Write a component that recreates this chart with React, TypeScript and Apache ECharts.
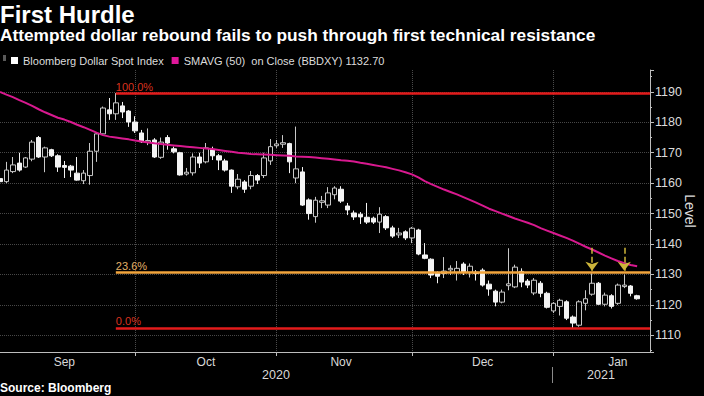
import React, { useEffect, useRef } from 'react';
import * as echarts from 'echarts';

const FONT = '"Liberation Sans", Arial, sans-serif';

// Trading days shown on the category axis (last two Jan entries are empty slots)
const sepDays = [2, 3, 4, 7, 8, 9, 10, 11, 14, 15, 16, 17, 18, 21, 22, 23, 24, 25, 28, 29, 30];
const octDays = [1, 2, 5, 6, 7, 8, 9, 12, 13, 14, 15, 16, 19, 20, 21, 22, 23, 26, 27, 28, 29, 30];
const novDays = [2, 3, 4, 5, 6, 9, 10, 11, 12, 13, 16, 17, 18, 19, 20, 23, 24, 25, 26, 27, 30];
const decDays = [1, 2, 3, 4, 7, 8, 9, 10, 11, 14, 15, 16, 17, 18, 21, 22, 23, 24, 28, 29, 30, 31];
const janDays = [4, 5, 6, 7, 8, 11, 12, 13, 14, 15, 18, 19, 20, 21, 22, 25];

const pad = (d: number) => String(d).padStart(2, '0');
const categories: string[] = [
  ...sepDays.map((d) => `2020-09-${pad(d)}`),
  ...octDays.map((d) => `2020-10-${pad(d)}`),
  ...novDays.map((d) => `2020-11-${pad(d)}`),
  ...decDays.map((d) => `2020-12-${pad(d)}`),
  ...janDays.map((d) => `2021-01-${pad(d)}`),
];

const monthNames = ['Sep', 'Oct', 'Nov', 'Dec', 'Jan'];
const monthLabelIdx = [10, 32, 53, 75, 96];
const monthStartIdx = [21, 43, 64, 86];
const yearNames = ['2020', '2021'];

const openVals = [
  1161.5, 1160.5, 1163.8, 1166.6, 1165.3, 1167.9, 1175.0, 1168.6, 1171.0, 1169.0,
  1165.8, 1165.6, 1163.3, 1160.8, 1162.5, 1170.5, 1176.2, 1184.1, 1182.8, 1185.4,
  1183.7, 1180.1, 1176.5, 1173.5, 1174.2, 1168.5, 1175.0, 1171.3, 1170.0, 1163.0,
  1163.4, 1168.6, 1167.0, 1171.0, 1169.0, 1167.3, 1164.3, 1158.8, 1160.4, 1159.0,
  1162.5, 1162.5, 1167.3, 1172.3, 1172.8, 1173.0, 1161.7, 1163.7, 1154.5, 1149.0,
  1153.7, 1152.8, 1156.2, 1158.0, 1152.5, 1150.2, 1149.8, 1148.8, 1148.5, 1147.2,
  1149.0, 1145.3, 1143.0, 1144.0, 1142.0, 1144.6, 1136.4, 1135.0, 1130.4, 1130.3,
  1131.5, 1130.7, 1133.4, 1130.7, 1130.7, 1131.4, 1126.8, 1124.5, 1120.9, 1126.3,
  1125.9, 1131.0, 1127.8, 1123.9, 1127.1, 1123.8, 1118.0, 1119.5, 1121.0, 1116.0,
  1113.3, 1120.5, 1123.5, 1127.1, 1120.2, 1123.0, 1120.5, 1126.0, 1126.2, 1123.0,
];
const closeVals = [
  1160.5, 1164.3, 1166.0, 1164.3, 1168.3, 1173.5, 1168.6, 1171.6, 1169.0, 1165.3,
  1165.2, 1164.3, 1161.0, 1163.3, 1170.5, 1176.2, 1184.7, 1182.8, 1186.4, 1183.4,
  1180.1, 1177.2, 1173.6, 1174.0, 1168.6, 1173.5, 1173.2, 1170.3, 1162.7, 1163.6,
  1168.6, 1166.6, 1171.6, 1169.0, 1167.6, 1164.3, 1159.0, 1161.3, 1158.0, 1162.5,
  1161.0, 1168.3, 1172.0, 1172.9, 1173.3, 1167.0, 1164.7, 1152.8, 1150.0, 1154.4,
  1154.2, 1156.8, 1158.4, 1154.1, 1151.2, 1148.9, 1148.9, 1147.2, 1147.2, 1149.8,
  1145.3, 1142.6, 1143.6, 1142.0, 1145.2, 1136.7, 1135.3, 1129.8, 1129.4, 1131.1,
  1132.0, 1132.0, 1130.7, 1132.7, 1130.3, 1126.5, 1125.2, 1120.9, 1124.2, 1126.9,
  1132.4, 1127.5, 1126.5, 1128.1, 1123.8, 1119.2, 1120.5, 1121.5, 1115.6, 1114.0,
  1121.0, 1122.0, 1127.1, 1120.2, 1123.2, 1119.5, 1126.5, 1126.5, 1123.8, 1122.0,
];
const lowVals = [
  1157.0, 1160.0, 1163.3, 1163.8, 1165.0, 1167.2, 1168.3, 1163.6, 1168.6, 1163.7,
  1161.7, 1162.0, 1160.8, 1159.7, 1159.5, 1167.0, 1175.8, 1180.8, 1180.8, 1181.4,
  1178.5, 1176.5, 1173.2, 1172.5, 1168.3, 1168.0, 1171.0, 1169.8, 1162.5, 1162.5,
  1162.5, 1165.0, 1166.5, 1167.6, 1164.3, 1163.8, 1156.8, 1158.0, 1156.8, 1158.0,
  1159.7, 1161.7, 1166.0, 1171.6, 1171.6, 1163.3, 1160.0, 1152.5, 1148.0, 1147.0,
  1151.8, 1151.8, 1154.7, 1153.5, 1149.5, 1147.9, 1146.6, 1146.6, 1146.6, 1143.6,
  1144.6, 1142.0, 1142.0, 1141.3, 1140.3, 1136.3, 1135.0, 1128.8, 1127.1, 1128.8,
  1129.8, 1128.0, 1129.8, 1129.0, 1128.0, 1126.0, 1123.0, 1119.5, 1120.5, 1124.8,
  1125.5, 1125.8, 1125.5, 1123.2, 1122.5, 1118.8, 1117.3, 1116.5, 1115.0, 1112.4,
  1112.8, 1118.2, 1123.0, 1120.0, 1119.5, 1118.8, 1120.0, 1125.5, 1122.8, 1121.7,
];
const highVals = [
  1162.2, 1167.0, 1168.6, 1170.0, 1168.6, 1174.2, 1175.5, 1172.0, 1171.3, 1169.5,
  1167.3, 1166.0, 1168.6, 1164.3, 1173.2, 1176.8, 1185.2, 1188.0, 1189.6, 1186.7,
  1184.0, 1182.0, 1177.5, 1178.0, 1174.8, 1175.0, 1175.8, 1172.0, 1170.3, 1165.0,
  1169.8, 1170.0, 1173.2, 1172.0, 1169.6, 1168.0, 1164.5, 1163.0, 1161.0, 1164.0,
  1163.0, 1170.0, 1174.5, 1174.2, 1175.8, 1173.3, 1178.6, 1165.3, 1155.0, 1155.5,
  1155.8, 1158.7, 1159.0, 1159.0, 1153.5, 1151.0, 1150.5, 1153.5, 1149.0, 1152.1,
  1149.5, 1146.0, 1145.3, 1144.5, 1145.6, 1145.0, 1140.3, 1135.3, 1131.0, 1135.7,
  1133.0, 1134.4, 1134.0, 1133.6, 1131.4, 1132.0, 1128.0, 1125.0, 1125.0, 1138.6,
  1133.2, 1132.0, 1128.5, 1128.8, 1127.8, 1124.3, 1120.9, 1122.0, 1121.5, 1116.5,
  1121.5, 1124.8, 1130.4, 1127.5, 1124.0, 1123.5, 1127.0, 1130.0, 1126.5, 1123.3,
];
const maVals = [
  1190.0, 1189.1, 1188.3, 1187.3, 1186.4, 1185.4, 1184.3, 1183.3, 1182.4, 1181.5,
  1180.9, 1180.1, 1179.2, 1178.4, 1177.5, 1176.6, 1175.8, 1175.3, 1175.0, 1174.7,
  1174.4, 1174.0, 1173.7, 1173.4, 1173.1, 1172.9, 1172.6, 1172.4, 1172.2, 1172.0,
  1171.8, 1171.6, 1171.4, 1171.2, 1170.9, 1170.6, 1170.3, 1170.0, 1169.8, 1169.6,
  1169.5, 1169.4, 1169.3, 1169.2, 1169.1, 1169.0, 1168.8, 1168.7, 1168.6, 1168.4,
  1168.2, 1168.0, 1167.8, 1167.5, 1167.4, 1167.1, 1166.7, 1166.4, 1166.0, 1165.6,
  1165.2, 1164.7, 1164.2, 1163.6, 1162.9, 1161.9, 1160.7, 1159.7, 1158.8, 1157.9,
  1157.1, 1156.3, 1155.4, 1154.5, 1153.6, 1152.6, 1151.6, 1150.8, 1150.0, 1149.2,
  1148.4, 1147.7, 1147.0, 1146.2, 1145.2, 1144.4, 1143.6, 1142.8, 1142.0, 1141.1,
  1140.1, 1139.1, 1138.2, 1137.2, 1136.2, 1135.3, 1134.4, 1133.7, 1133.1, 1132.7,
];

const fibLevels = [1189.6, 1130.6, 1112.4];
const fibLabels = ['100.0%', '23.6%', '0.0%'];
const fibColors = ['#e31b1b', '#f2a53c', '#e31b1b'];
const fibLabelColors = ['#d8321f', '#e3b068', '#d8321f'];
const fibStartIdx = 18;

const arrowIdx = [92, 97];
const arrowTop = 1138.8;
const arrowBottom = 1131.2;

const CANDLE_NAME = 'Bloomberg Dollar Spot Index';
const MA_NAME = 'SMAVG (50)  on Close (BBDXY) 1132.70';

export default function App() {
  const ref = useRef<HTMLDivElement>(null);

  useEffect(() => {
    if (!ref.current) return;
    const chart = echarts.init(ref.current, undefined, { renderer: 'svg' });
    const candleData = openVals.map((o, i) => [o, closeVals[i], lowVals[i], highVals[i]]);
    const lastCat = categories[categories.length - 1];

    const fibLines = fibLevels.map((v, k) => [
      {
        coord: [categories[fibStartIdx], v],
        lineStyle: { color: fibColors[k], width: 2.5, type: 'solid' },
        label: {
          show: true,
          formatter: fibLabels[k],
          position: 'insideStartTop',
          color: fibLabelColors[k],
          fontSize: 11,
          fontFamily: FONT,
          distance: [0, 1],
        },
      },
      { coord: [lastCat, v] },
    ]);

    const arrows = arrowIdx.map((idx) => [
      { coord: [categories[idx], arrowTop] },
      { coord: [categories[idx], arrowBottom] },
    ]);

    const option: any = {
      animation: false,
      backgroundColor: '#000',
      textStyle: { fontFamily: FONT },
      grid: { left: 0, right: 54, top: 70, bottom: 44, containLabel: false, outerBoundsMode: 'none' },
      legend: {
        left: 11,
        top: 55,
        padding: 0,
        icon: 'rect',
        itemWidth: 7,
        itemHeight: 7,
        itemGap: 8,
        textStyle: { color: '#dcdcdc', fontSize: 11, fontFamily: FONT },
        data: [
          { name: CANDLE_NAME, itemStyle: { color: '#ffffff', borderWidth: 0 } },
          { name: MA_NAME, itemStyle: { color: '#e0179a', borderWidth: 0 } },
        ],
        selectedMode: false,
      },
      xAxis: {
        type: 'category',
        data: categories,
        boundaryGap: false,
        axisLine: { show: true, lineStyle: { color: '#bdbdbd', width: 1 } },
        axisTick: {
          show: true,
          interval: (i: number) => monthStartIdx.includes(i),
          length: 4,
          lineStyle: { color: '#bdbdbd' },
        },
        axisLabel: {
          interval: (i: number) => monthLabelIdx.includes(i),
          formatter: (_v: string, i: number) => monthNames[monthLabelIdx.indexOf(i)] ?? '',
          color: '#d8d8d8',
          fontSize: 12,
          margin: 4,
          fontFamily: FONT,
        },
        splitLine: {
          show: true,
          interval: (i: number) => monthStartIdx.includes(i),
          lineStyle: { color: '#4a4a4a', type: 'dotted', width: 1 },
        },
      },
      yAxis: {
        type: 'value',
        position: 'right',
        min: 1104.5,
        max: 1197.2,
        splitNumber: 9,
        axisLine: { show: true, lineStyle: { color: '#bdbdbd' } },
        axisTick: { show: true, length: 4, lineStyle: { color: '#bdbdbd' } },
        minorTick: { show: true, splitNumber: 2, length: 2, lineStyle: { color: '#bdbdbd' } },
        splitLine: {
          show: true,
          showMinLine: false,
          showMaxLine: false,
          lineStyle: { color: '#474747', type: 'dotted', width: 1 },
        },
        axisLabel: {
          color: '#dcdcdc',
          fontSize: 12.5,
          margin: 5,
          showMinLabel: false,
          showMaxLabel: false,
          fontFamily: FONT,
          formatter: (v: number) => String(Math.round(v)),
        },
        name: 'Level',
        nameLocation: 'middle',
        nameRotate: -90,
        nameGap: 33,
        nameMoveOverlap: false,
        nameTextStyle: { color: '#dcdcdc', fontSize: 14, fontFamily: FONT },
      },
      series: [
        {
          type: 'candlestick',
          name: CANDLE_NAME,
          data: candleData,
          barWidth: 5,
          itemStyle: {
            color: '#000000',
            color0: '#f4f4f4',
            borderColor: '#c8c8c8',
            borderColor0: '#f4f4f4',
            borderWidth: 1,
          },
          markLine: {
            silent: true,
            symbol: ['none', 'none'],
            animation: false,
            data: fibLines,
          },
        },
        {
          type: 'line',
          name: MA_NAME,
          data: maVals,
          showSymbol: false,
          symbol: 'none',
          z: 3,
          lineStyle: { color: '#d8198f', width: 2 },
          itemStyle: { color: '#d8198f' },
          markLine: {
            silent: true,
            symbol: ['none', 'arrow'],
            symbolSize: [10, 9],
            animation: false,
            label: { show: false },
            lineStyle: { color: '#cdb53a', width: 1.5, type: 'dashed' },
            data: arrows,
          },
        },
      ],
      graphic: [
        {
          type: 'text',
          x: 0,
          y: 14,
          style: {
            text: 'First Hurdle',
            fill: '#ffffff',
            font: `bold 24px ${FONT}`,
            textVerticalAlign: 'middle',
          },
        },
        {
          type: 'text',
          x: 0,
          y: 35,
          style: {
            text: 'Attempted dollar rebound fails to push through first technical resistance',
            fill: '#ffffff',
            font: `bold 17.3px ${FONT}`,
            textVerticalAlign: 'middle',
          },
        },
        {
          type: 'rect',
          shape: { x: 3, y: 55, width: 3, height: 6 },
          style: { fill: '#5a5a5a' },
        },
        {
          type: 'text',
          x: 276,
          y: 375,
          style: {
            text: yearNames[0],
            fill: '#d8d8d8',
            font: `12.5px ${FONT}`,
            textAlign: 'center',
            textVerticalAlign: 'middle',
          },
        },
        {
          type: 'text',
          x: 601,
          y: 375,
          style: {
            text: yearNames[1],
            fill: '#d8d8d8',
            font: `12.5px ${FONT}`,
            textAlign: 'center',
            textVerticalAlign: 'middle',
          },
        },
        {
          type: 'line',
          shape: { x1: 552.5, y1: 367, x2: 552.5, y2: 383 },
          style: { stroke: '#8a8a8a', lineWidth: 1 },
        },
        {
          type: 'text',
          x: 0,
          y: 388,
          style: {
            text: 'Source: Bloomberg',
            fill: '#ffffff',
            font: `bold 12px ${FONT}`,
            textVerticalAlign: 'middle',
          },
        },
      ],
    };

    chart.setOption(option);
    return () => chart.dispose();
  }, []);

  return (
    <div
      ref={ref}
      style={{ position: 'fixed', left: 0, top: 0, width: 704, height: 396, background: '#000' }}
    />
  );
}
